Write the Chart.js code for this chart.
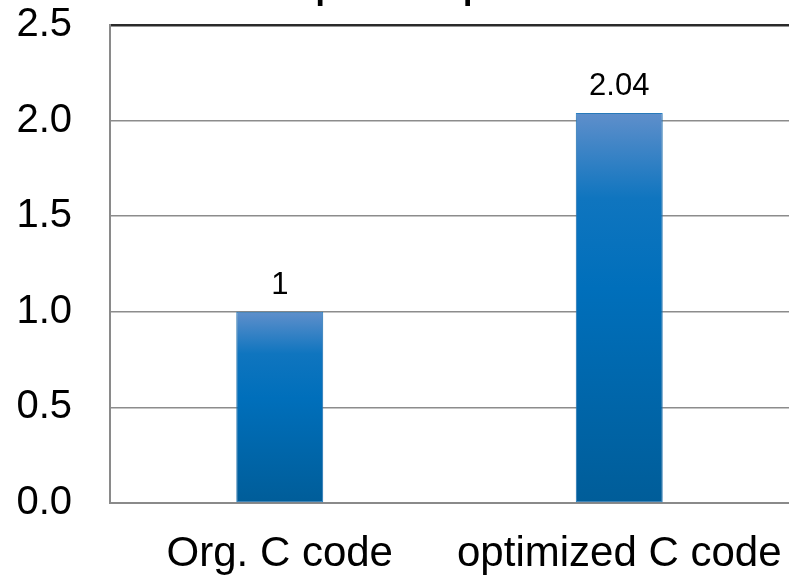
<!DOCTYPE html>
<html>
<head>
<meta charset="utf-8">
<script src="https://cdn.jsdelivr.net/npm/chart.js@4.4.1/dist/chart.umd.min.js"></script>
<style>
  html, body { margin: 0; padding: 0; background: #ffffff; }
  #wrap { width: 789px; height: 579px; }
</style>
</head>
<body>
<div id="wrap"><canvas id="c" width="789" height="579"></canvas></div>
<script>
// Speedup of the optimized C code relative to the original
const categories = ['Org. C code', 'optimized C code'];
const speedup = [1, 2.04];
const yTicks = [0, 0.5, 1.0, 1.5, 2.0, 2.5];
const titleText = 'Speedup';

const FONT = '"Liberation Sans", Arial, Helvetica, sans-serif';

// Vertical gradient spanning each bar from its top to the baseline
function barGradient(ctx) {
  const chart = ctx.chart;
  const y = chart.scales && chart.scales.y;
  if (!chart.chartArea || !y || ctx.type !== 'data') return '#0070c0';
  const top = y.getPixelForValue(ctx.raw);
  const base = y.getPixelForValue(0);
  const g = chart.ctx.createLinearGradient(0, top, 0, base);
  g.addColorStop(0, '#5f8fcb');
  g.addColorStop(0.22, '#0f75bf');
  g.addColorStop(0.45, '#006fbb');
  g.addColorStop(1, '#005d99');
  return g;
}

// Title sitting above the top edge of the canvas
const titlePlugin = {
  id: 'topTitle',
  afterDraw(chart) {
    const c = chart.ctx;
    c.save();
    c.font = '53px ' + FONT;
    c.fillStyle = '#000';
    c.textAlign = 'left';
    c.textBaseline = 'alphabetic';
    c.fillText(titleText, 279, -5);
    c.restore();
  }
};

// Soft glow behind the bars
const shadowPlugin = {
  id: 'barShadow',
  beforeDatasetsDraw(chart) {
    const c = chart.ctx;
    c.save();
    c.shadowColor = 'rgba(0,0,0,0.28)';
    c.shadowBlur = 5;
    c.shadowOffsetX = 0;
    c.shadowOffsetY = 0;
  },
  afterDatasetsDraw(chart) {
    chart.ctx.restore();
  }
};

// Value written above each bar
const valueLabels = {
  id: 'valueLabels',
  afterDatasetsDraw(chart) {
    const c = chart.ctx;
    const meta = chart.getDatasetMeta(0);
    c.save();
    c.font = '31px ' + FONT;
    c.fillStyle = '#000';
    c.textAlign = 'center';
    c.textBaseline = 'alphabetic';
    meta.data.forEach((bar, i) => {
      c.fillText(String(speedup[i]), bar.x, bar.y - 18);
    });
    c.restore();
  }
};

new Chart(document.getElementById('c'), {
  type: 'bar',
  data: {
    labels: categories,
    datasets: [{
      data: speedup,
      backgroundColor: barGradient,
      borderColor: '#2b86cd',
      borderWidth: 1,
      borderSkipped: false,
      barPercentage: 0.256,
      categoryPercentage: 1
    }]
  },
  options: {
    responsive: false,
    animation: false,
    devicePixelRatio: 1,
    layout: { padding: { top: 25, right: 0, left: 0, bottom: 0 } },
    plugins: {
      legend: { display: false },
      tooltip: { enabled: false },
      title: { display: false }
    },
    scales: {
      x: {
        offset: true,
        grid: {
          display: true,
          drawOnChartArea: false,
          drawTicks: true,
          tickLength: 26,
          tickColor: 'rgba(0,0,0,0)'
        },
        border: { display: true, color: '#8a8a8a', width: 2 },
        ticks: {
          color: '#000',
          font: { family: FONT, size: 42 },
          padding: 0,
          maxRotation: 0,
          autoSkip: false
        },
        afterFit(s) { s.height = 76; }
      },
      y: {
        min: 0,
        max: 2.5,
        afterBuildTicks(s) { s.ticks = yTicks.map(v => ({ value: v })); },
        grid: {
          drawTicks: true,
          tickLength: 38,
          tickColor: 'rgba(0,0,0,0)',
          color: ctx => (ctx.tick && ctx.tick.value === 2.5) ? '#2a2a2a' : '#8c8c8c',
          lineWidth: ctx => (ctx.tick && ctx.tick.value === 2.5) ? 2.5 : 1.5
        },
        border: { display: true, color: '#8a8a8a', width: 2 },
        ticks: {
          color: '#000',
          font: { family: FONT, size: 40 },
          padding: 0,
          callback: v => Number(v).toFixed(1)
        },
        afterFit(s) { s.width = 110; }
      }
    }
  },
  plugins: [shadowPlugin, valueLabels, titlePlugin]
});
</script>
</body>
</html>
